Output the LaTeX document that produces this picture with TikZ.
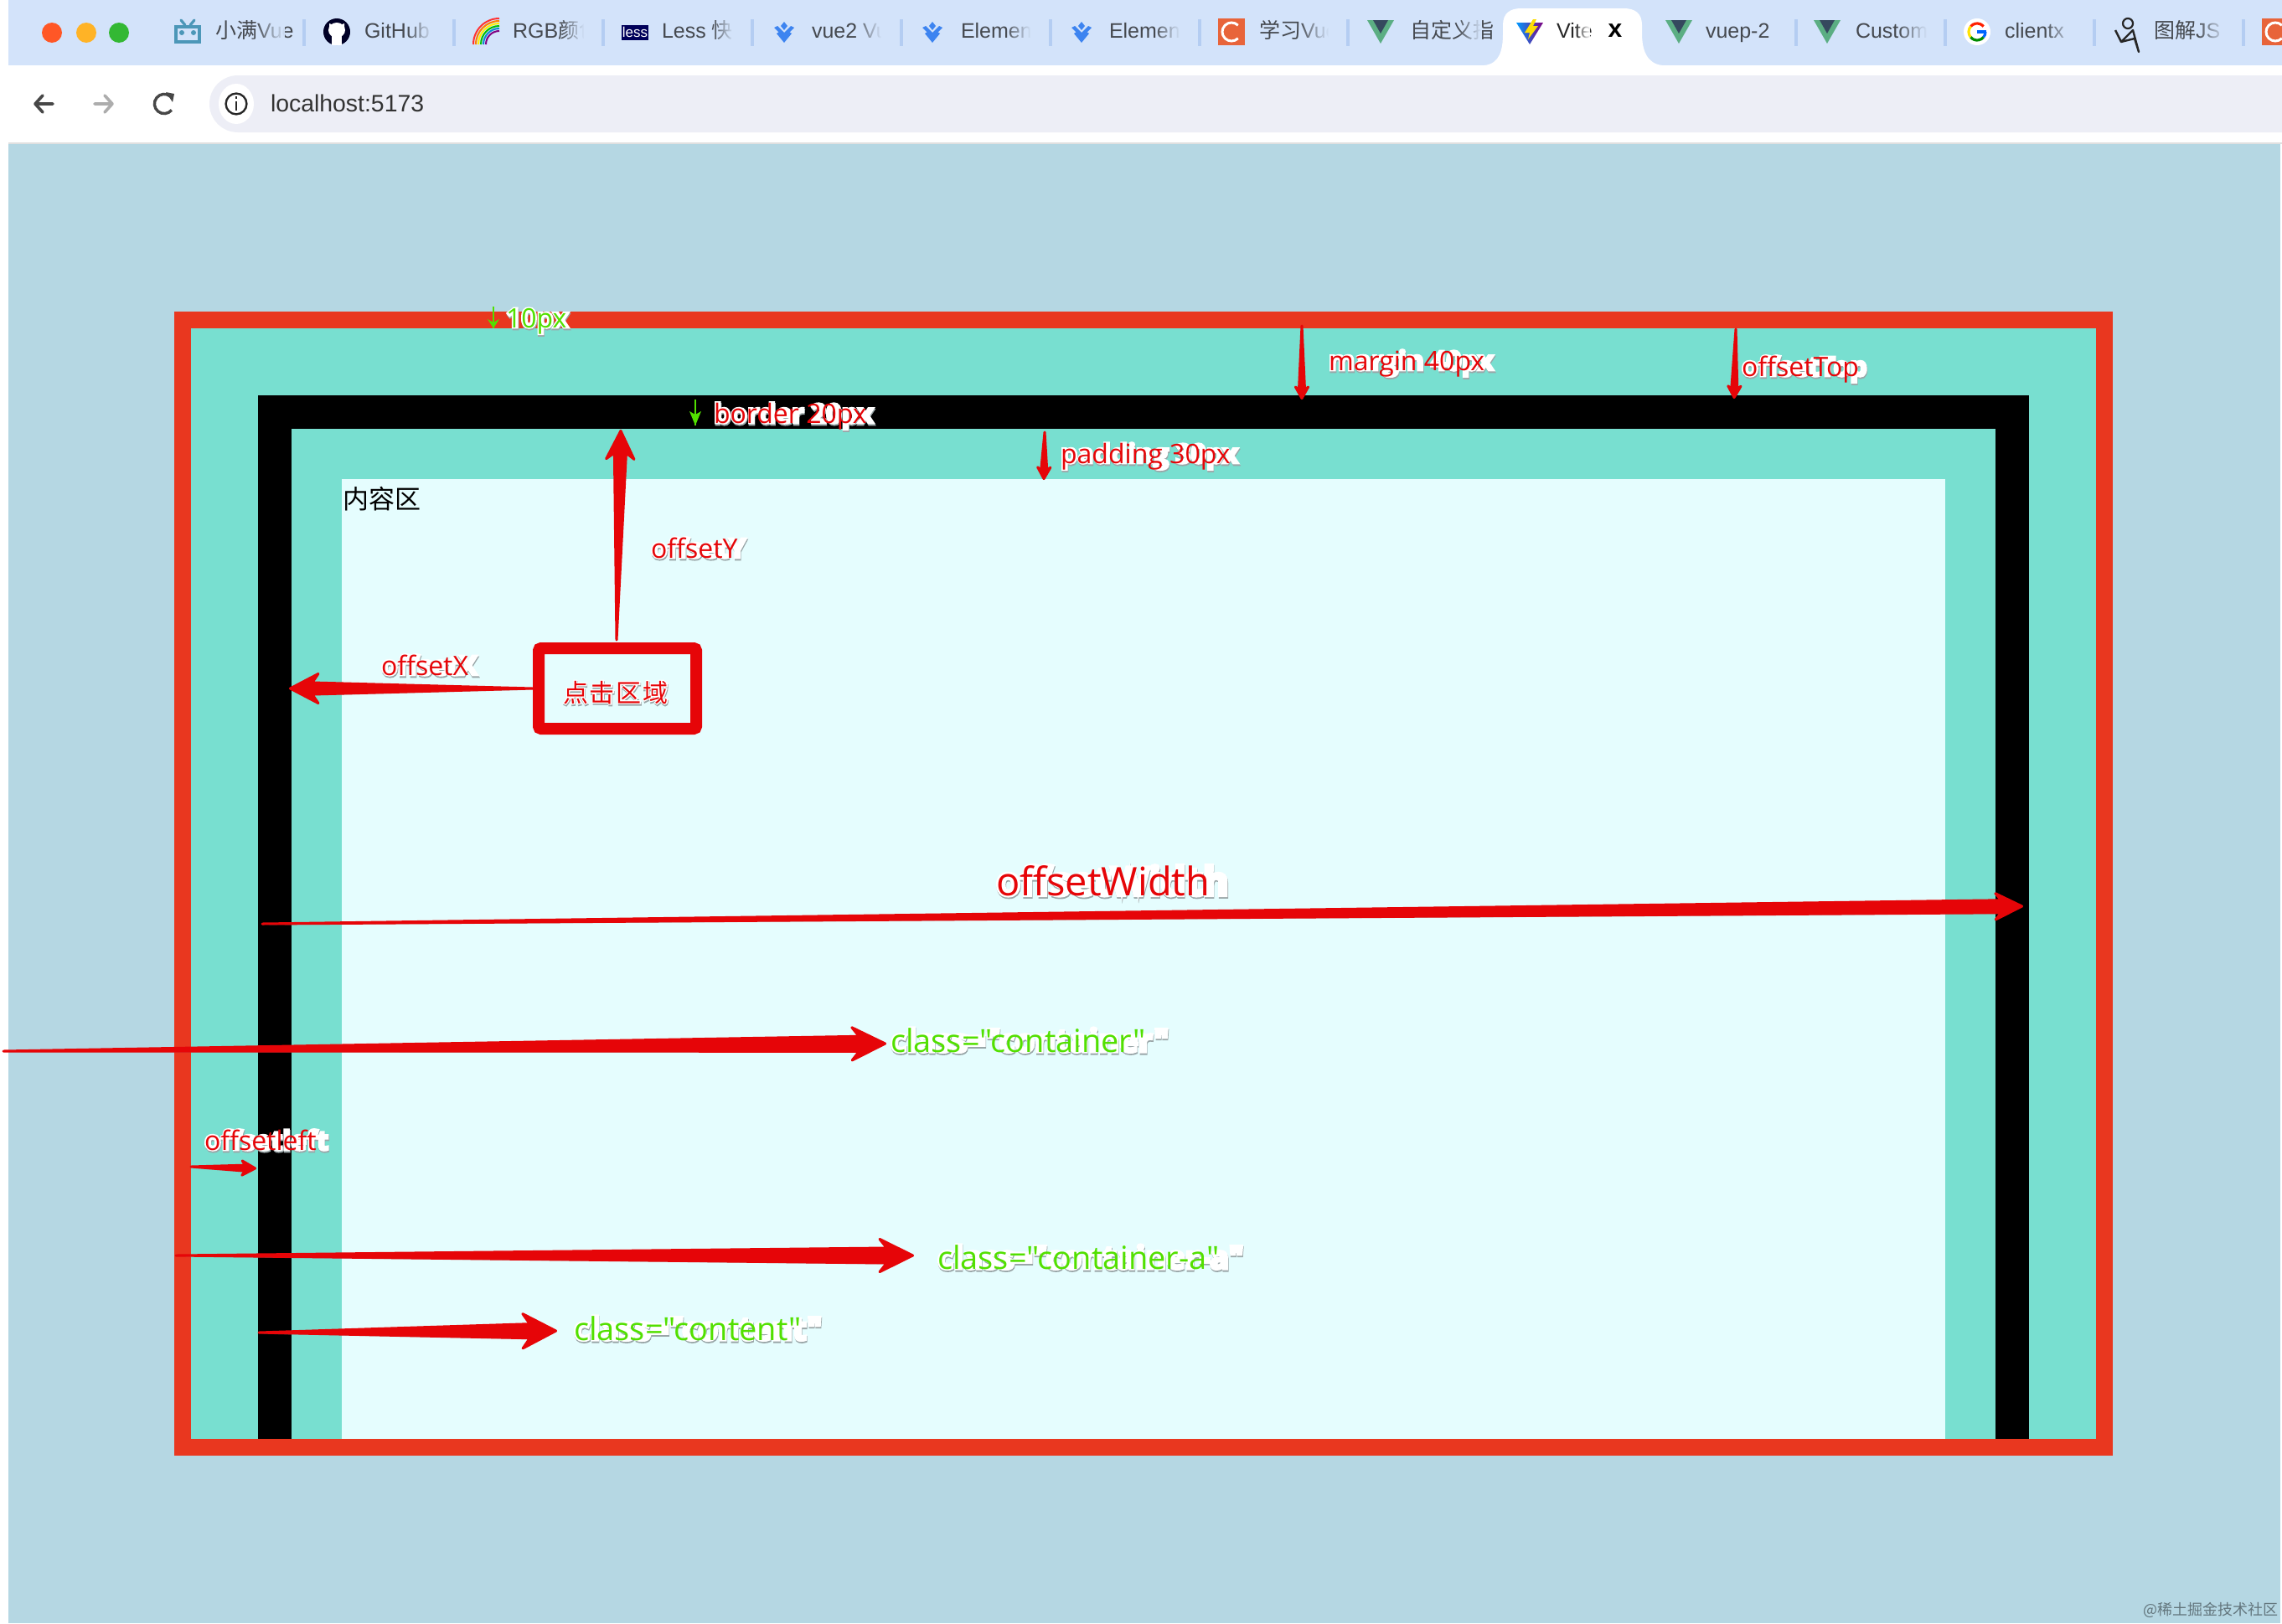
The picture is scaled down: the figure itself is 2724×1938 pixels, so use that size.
\documentclass[tikz,border=0pt]{standalone}
\usepackage{fontspec}
\usetikzlibrary{calc,fadings}
\setmainfont{Liberation Sans}
\newfontfamily\cjk{Noto Sans CJK SC}
\newfontfamily\cjkspaced[LetterSpace=6]{Noto Sans CJK SC}
\newfontfamily\cjkhalo[LetterSpace=6,FakeBold=8]{Noto Sans CJK SC}
\newfontfamily\lblfont[BoldFont=*]{Open Sans}
\newfontfamily\lblbold[UprightFeatures={FakeBold=0},BoldFeatures={FakeBold=0}]{Open Sans}
\newfontfamily\lblhalo[BoldFeatures={FakeBold=9}]{Open Sans}
\definecolor{pagebg}{HTML}{B5D7E3}
\definecolor{framered}{HTML}{E9371F}
\definecolor{boxteal}{HTML}{78DFD0}
\definecolor{contentbg}{HTML}{E5FDFE}
\definecolor{arrowred}{HTML}{E60508}
\definecolor{labelgreen}{HTML}{52E000}
\definecolor{tabbg}{HTML}{D3E3FA}
\definecolor{fieldbg}{HTML}{EDEEF6}
\definecolor{sepblue}{HTML}{B4CDF2}
\definecolor{tabtext}{HTML}{45494F}
\definecolor{vuegreen}{HTML}{5BAE83}
\definecolor{vuedark}{HTML}{35495E}
\definecolor{elblue}{HTML}{3D84F0}
\definecolor{corange}{HTML}{E8643A}
\definecolor{halogray}{HTML}{9AA6A8}
\tikzset{
  x=0.5pt,y=-0.5pt,
  plain label/.style={anchor=base west,inner sep=0pt,outer sep=0pt},
  tab label/.style={plain label,text=tabtext,font=\fontsize{12.5pt}{15pt}\selectfont},
  sep line/.style={draw=sepblue,line width=1.75pt},
  icon stroke/.style={line width=1.8pt,line cap=round,line join=round},
}
% #1 text colour, #2 size in pt, #3 text
\newcommand\halotext[3]{\fontsize{#2}{#2}\selectfont
  \makebox[0pt][l]{\raisebox{-0.9pt}{\hspace{0.3pt}\color{halogray}\lblhalo\bfseries #3}}%
  \makebox[0pt][l]{\color{white}\lblhalo\bfseries #3}%
  {\color{#1}\lblfont\bfseries #3}}
\newcommand\halocjktext[3]{\fontsize{#2}{#2}\selectfont
  \makebox[0pt][l]{\raisebox{-0.9pt}{\hspace{0.3pt}\color{halogray}\cjkhalo #3}}%
  \makebox[0pt][l]{\color{white}\cjkhalo #3}%
  {\color{#1}\cjkspaced #3}}
% name, x, y baseline, colour, size, text
\newcommand\lbl[6]{\node[plain label] (#1) at (#2,#3) {\halotext{#4}{#5}{#6}};}
% tapered arrow: from, tip, shaft half, head length, head half, colour (px units)
\newcommand\taper[6]{
  \coordinate (hb) at ($(#2)!#4*0.5pt!(#1)$);
  \coordinate (hs) at ($(#2)!#4*0.40pt!(#1)$);
  \fill[black!45,opacity=.45] ([yshift=-.8pt]#1) -- ([yshift=-.8pt]$(hs)!#3*0.5pt!90:(#2)$) -- ([yshift=-.8pt]$(hs)!#3*0.5pt!-90:(#2)$) -- cycle;
  \filldraw[#6,line width=1.5pt,line join=round]
    (#1) -- ($(hs)!#3*0.5pt!90:(#2)$) -- ($(hb)!#5*0.5pt-.7pt!90:(#2)$)
    -- ($(#2)!1.2pt!(#1)$) -- ($(hb)!#5*0.5pt-.7pt!-90:(#2)$) -- ($(hs)!#3*0.5pt!-90:(#2)$) -- cycle;
}
% tab text: name, x start, text, fade start, fade end, colour of backdrop
\newcommand\tabtext[6]{
  \node[tab label] (#1) at (#2,46) {#3};
  \fill[#6,path fading=west] (#4,12) rectangle (#5,70);
  \fill[#6] (#5,12) rectangle (#5+22,70);
}
\newcommand\vueicon[1]{
  \begin{scope}[shift={(#1,0)}]
    \fill[vuegreen] (-16,24) -- (16,24) -- (0,52) -- cycle;
    \fill[vuedark] (-9,24) -- (9,24) -- (0,40) -- cycle;
  \end{scope}
}
\newcommand\elicon[1]{
  \begin{scope}[shift={(#1,0)}]
    \fill[elblue] (0,26) -- (4,31) -- (0,36) -- (-4,31) -- cycle;
    \fill[elblue] (-12,33) -- (-8,31) -- (0,39) -- (8,31) -- (12,33) -- (0,45) -- cycle;
    \fill[elblue] (-9,40) -- (-6,38) -- (0,44) -- (6,38) -- (9,40) -- (0,51) -- cycle;
  \end{scope}
}
\newcommand\ringarc[7]{\draw[#6,line width=#7] ([shift={(#3:#5)}]#1,#2) arc (#3:#4:#5);}
\begin{document}
\begin{tikzpicture}
\useasboundingbox (0,0) rectangle (2724,1938);
% page chrome
\fill[white] (0,0) rectangle (2724,1938);
\fill[tabbg] (10,0) rectangle (2724,78);
\fill[white] (10,78) rectangle (2724,170);
\fill[black!12] (10,170) rectangle (2724,172);
\fill[pagebg] (10,172) rectangle (2722,1938);
% traffic lights
\fill[red!55!orange!85!white] (62,39) circle[radius=6pt];
\fill[orange!70!yellow!85!white] (103,39) circle[radius=6pt];
\fill[green!65!black!80!white] (142,39) circle[radius=6pt];
% tab labels with fade
\node[tab label] (t1) at (257,46) {\cjk 小满\rmfamily Vue};
\fill[tabbg,path fading=west] (305,12) rectangle (340,70);
\node[tab label] (t2) at (435,46) {GitHub};
\fill[tabbg,path fading=west] (485,12) rectangle (516,70);
\node[tab label] (t3) at (612,46) {RGB\cjk 颜色};
\fill[tabbg,path fading=west] (670,12) rectangle (697,70);
\fill[tabbg] (697,12) rectangle (716,70);
\node[tab label] (t4) at (790,46) {Less \cjk 快};
\fill[tabbg,path fading=west] (850,12) rectangle (875,70);
\node[tab label] (t5) at (969,46) {vue2 Vue};
\fill[tabbg,path fading=west] (1020,12) rectangle (1052,70);
\fill[tabbg] (1052,12) rectangle (1074,70);
\node[tab label] (t6) at (1147,46) {Element};
\fill[tabbg,path fading=west] (1200,12) rectangle (1230,70);
\fill[tabbg] (1230,12) rectangle (1252,70);
\node[tab label] (t7) at (1324,46) {Element};
\fill[tabbg,path fading=west] (1378,12) rectangle (1408,70);
\fill[tabbg] (1408,12) rectangle (1430,70);
\node[tab label] (t8) at (1503,46) {\cjk 学习\rmfamily Vue};
\fill[tabbg,path fading=west] (1550,12) rectangle (1586,70);
\fill[tabbg] (1586,12) rectangle (1606,70);
\node[tab label] (t9) at (1683,46) {\cjk 自定义指};
\fill[tabbg,path fading=west] (1740,12) rectangle (1768,70);
% active tab
\fill[white] (1772,78) .. controls (1790,76) and (1794,60) .. (1794,40) -- (1794,30) .. controls (1794,16) and (1802,10) .. (1816,10)
  -- (1938,10) .. controls (1952,10) and (1960,16) .. (1960,30) -- (1960,40) .. controls (1960,60) and (1966,76) .. (1984,78) -- cycle;
\node[tab label,text=black!85] (t10) at (1858,46) {Vite};
\fill[white,path fading=west] (1880,12) rectangle (1898,70);
\node[plain label,anchor=center,text=black,font=\bfseries\fontsize{15pt}{15pt}\selectfont] (closex) at (1928,37) {x};
\node[tab label] (t11) at (2036,46) {vuep-2};
\node[tab label] (t12) at (2215,46) {Custom};
\fill[tabbg,path fading=west] (2265,12) rectangle (2300,70);
\node[tab label] (t13) at (2393,46) {clientx};
\fill[tabbg,path fading=west] (2440,12) rectangle (2476,70);
\node[tab label] (t14) at (2571,46) {\cjk 图解\rmfamily JS};
\fill[tabbg,path fading=west] (2622,12) rectangle (2656,70);
% separators
\foreach \sx in {363,542,720,898,1076,1254,1432,1609,2144,2322,2500,2678}
  \draw[sep line] (\sx,23) -- (\sx,55);
% icons: bilibili tv
\fill[blue!30!cyan!60!black!70!white] (208,30) rectangle (240,52);
\draw[blue!30!cyan!60!black!70!white,line width=1.6pt,line cap=round] (216,24) -- (221,30) (232,24) -- (227,30);
\fill[tabbg] (212,34) rectangle (236,48);
\fill[blue!30!cyan!60!black!70!white] (217,39) circle[radius=1.5pt] (231,39) circle[radius=1.5pt];
% github
\fill[black!85!blue] (402,38) circle[radius=8pt];
\fill[white] (402,36) ellipse[x radius=5pt,y radius=4.5pt];
\fill[white] (393,28) -- (398,30) -- (393,35) -- cycle (411,28) -- (406,30) -- (411,35) -- cycle;
\fill[white] (396,42) rectangle (408,54);
% rainbow
\foreach \rr/\cc in {15.5pt/red!80!white,14pt/orange,12.5pt/yellow,11pt/green!75!black,9.5pt/cyan!70!blue,8pt/violet}
  {\draw[\cc,line width=1pt] ([shift={(180:\rr)}]596,53) arc (180:90:\rr);}
% less
\fill[blue!35!black] (742,30) rectangle (774,48);
\node[plain label,anchor=center,text=white,font=\fontsize{8.5pt}{9pt}\selectfont] (lessmark) at (758,38) {less};
\elicon{936}\elicon{1113}\elicon{1291}
% C logos
\fill[corange] (1454,22) rectangle (1486,54);
\ringarc{1470}{38}{45}{315}{5.5pt}{white}{1.5pt}
\fill[corange] (2700,22) rectangle (2724,54);
\ringarc{2716}{38}{45}{315}{5.5pt}{white}{1.5pt}
\vueicon{1648}\vueicon{2004}\vueicon{2181}
% vite
\shade[left color=cyan!60!blue,right color=violet] (1810,27) -- (1842,27) -- (1826,53) -- cycle;
\fill[yellow!80!orange] (1830,23) -- (1820,39) -- (1826,39) -- (1824,47) -- (1836,31) -- (1830,31) -- (1834,23) -- cycle;
% google
\fill[white] (2360,38) circle[radius=8pt];
\ringarc{2360}{38}{40}{140}{5pt}{red!75!orange}{1.6pt}
\ringarc{2360}{38}{140}{220}{5pt}{yellow!85!orange}{1.6pt}
\ringarc{2360}{38}{220}{320}{5pt}{green!55!black}{1.6pt}
\ringarc{2360}{38}{320}{360}{5pt}{blue!60!cyan}{1.6pt}
\fill[blue!60!cyan] (2360,36) rectangle (2371,40);
% tujie logo
\draw[black!85,line width=1.1pt] (2540,28) circle[radius=3pt];
\draw[black!85,line width=1.2pt,line join=round] (2525,36) -- (2532,50) -- (2546,36) -- (2553,62) -- (2548,46) -- (2532,50);
% address bar
\fill[fieldbg] (2724,90) -- (284,90) arc (90:270:17pt) -- (2724,158) -- cycle;
\fill[white] (282,124) ellipse[x radius=10.5pt,y radius=12pt];
\draw[black!85,line width=1.2pt] (282,124) circle[radius=6.2pt];
\draw[black!85,line width=1.3pt] (282,121) -- (282,132) (282,115) -- (282,118);
\node[plain label,text=black!80,font=\fontsize{14.2pt}{16pt}\selectfont] (url) at (323,133) {localhost:5173};
\draw[black!72,icon stroke] (63,124) -- (42,124) (51,114) -- (42,124) -- (51,134);
\draw[black!32,icon stroke] (113,124) -- (134,124) (125,114) -- (134,124) -- (125,134);
\ringarc{196}{124}{50}{320}{5.8pt}{black!72}{1.7pt}
\fill[black!72] (198,110) -- (208,112) -- (206,122) -- cycle;
% box model layers
\fill[framered] (208,372) rectangle (2522,1738);
\fill[boxteal] (228,392) rectangle (2502,1718);
\fill[black] (308,472) rectangle (2422,1718);
\fill[boxteal] (348,512) rectangle (2382,1718);
\fill[contentbg] (408,572) rectangle (2322,1718);
\node[plain label,text=black,font=\cjk\fontsize{15.5pt}{16pt}\selectfont] (contentlabel) at (409,607) {内容区};
% click area
\node[draw=arrowred,line width=7pt,rounded corners=1.5pt,minimum width=94pt,minimum height=48pt,inner sep=0pt] (clickbox) at (737,822) {};
\node[plain label] (clicklabel) at (672,838) {\halocjktext{arrowred}{15pt}{点击区域}};
% coordinates
\coordinate (yfrom) at (736,764);   \coordinate (ytip) at (741,512);
\coordinate (xfrom) at (clickbox.west); \coordinate (xtip) at (344,822);
\coordinate (mfrom) at (1554,389);  \coordinate (mtip) at (1554,478);
\coordinate (tfrom) at (2072,393);  \coordinate (ttip) at (2070,477);
\coordinate (pfrom) at (1247,516);  \coordinate (ptip) at (1246,574);
\coordinate (wfrom) at (313,1103);  \coordinate (wtip) at (2416,1082);
\coordinate (cfrom) at (4,1255);    \coordinate (ctip) at (1059,1246);
\coordinate (lfrom) at (228,1393);  \coordinate (ltip) at (307,1395);
\coordinate (afrom) at (210,1499);  \coordinate (atip) at (1092,1499);
\coordinate (nfrom) at (309,1591);  \coordinate (ntip) at (666,1589);
\coordinate (gafrom) at (589,366);  \coordinate (gatip) at (589,392);
\coordinate (gbfrom) at (830,477);  \coordinate (gbtip) at (830,508);
% arrows
\taper{yfrom}{ytip}{7}{36}{18}{arrowred}
\taper{xfrom}{xtip}{7}{36}{19}{arrowred}
\taper{mfrom}{mtip}{3.5}{16}{9}{arrowred}
\taper{tfrom}{ttip}{3.5}{16}{9}{arrowred}
\taper{pfrom}{ptip}{3.5}{16}{9}{arrowred}
\taper{wfrom}{wtip}{7.5}{34}{17}{arrowred}
\taper{cfrom}{ctip}{9}{42}{21}{arrowred}
\taper{lfrom}{ltip}{3.5}{18}{10}{arrowred}
\taper{afrom}{atip}{9}{42}{21}{arrowred}
\taper{nfrom}{ntip}{8.5}{42}{22}{arrowred}
\draw[labelgreen,line width=1pt] (gafrom) -- (gatip);
\fill[labelgreen] (582,381) -- (589,385) -- (596,381) -- (gatip) -- cycle;
\draw[labelgreen,line width=1.2pt] (gbfrom) -- (gbtip);
\fill[labelgreen] (823,491) -- (830,495) -- (837,491) -- (gbtip) -- cycle;
% labels
\lbl{l10}{604}{391}{labelgreen}{16pt}{10px}
\lbl{lborder}{852}{505}{arrowred}{16pt}{border 20px}
\lbl{lmargin}{1586}{442}{arrowred}{16pt}{margin 40px}
\lbl{ltop}{2079}{449}{arrowred}{16pt}{offsetTop}
\lbl{lpad}{1266}{553}{arrowred}{16pt}{padding 30px}
\lbl{ly}{777}{666}{arrowred}{16pt}{offsetY}
\lbl{lx}{455}{806}{arrowred}{16pt}{offsetX}
\lbl{lw}{1189}{1069}{arrowred}{23.5pt}{offsetWidth}
\lbl{lc}{1063}{1256}{labelgreen}{19pt}{class="container"}
\lbl{ll}{244}{1373}{arrowred}{16pt}{offsetleft}
\lbl{la}{1119}{1515}{labelgreen}{19pt}{class="container-a"}
\lbl{ln}{685}{1600}{labelgreen}{19pt}{class="content"}
\node[plain label,text=black!45!pagebg,font=\cjk\fontsize{9pt}{10pt}\selectfont] (mark) at (2558,1928) {@稀土掘金技术社区};
\end{tikzpicture}
\end{document}
